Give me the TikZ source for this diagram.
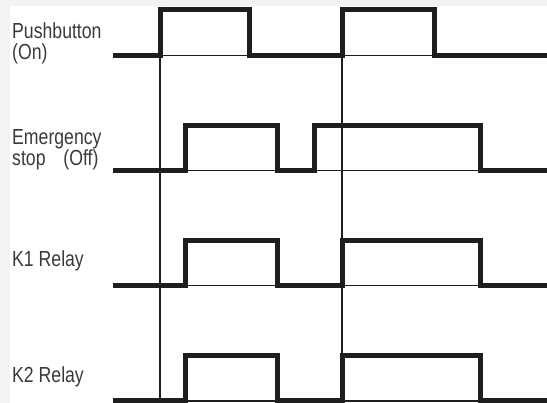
\documentclass[tikz,border=0pt]{standalone}
\usepackage{fontspec}
\setmainfont{Liberation Sans}[FakeStretch=0.81]
\definecolor{ink}{HTML}{1E1E1E}
\definecolor{lbltext}{HTML}{3A3A3A}
\definecolor{band}{HTML}{F3F3F3}
\begin{document}
\begin{tikzpicture}[x=1pt,y=-1pt,line cap=butt,line join=miter,
 wave/.style={draw=ink,line width=5pt},
 guide/.style={draw=ink,line width=1.5pt},
 lbl/.style={anchor=base west,inner sep=0pt,align=left,text=lbltext,
  font=\fontsize{21.8}{21.5}\selectfont}]
 \useasboundingbox (0,0) rectangle (547,403);
 % grey edges of the cropped scan
 \fill[band] (0,0) rectangle (547,6);
 \fill[band] (0,0) rectangle (10,403);
 % time markers
 \draw[guide] (160,7)--(160,403);
 \draw[guide] (342,7)--(342,403);
 % pushbutton
 \draw[guide] (160,55.5)--(249.5,55.5) (342,55.5)--(434.5,55.5);
 \draw[wave] (113,55.5)--(160,55.5)--(160,10)--(249.5,10)--(249.5,55.5)
  --(342,55.5)--(342,10)--(434.5,10)--(434.5,55.5)--(547,55.5);
 % emergency stop
 \draw[guide] (185.5,170.5)--(277,170.5) (314.5,170.5)--(480.5,170.5);
 \draw[wave] (113,170.5)--(185.5,170.5)--(185.5,125.5)--(277,125.5)
  --(277,170.5)--(314.5,170.5)--(314.5,125.5)--(480.5,125.5)
  --(480.5,170.5)--(547,170.5);
 % relays
 \foreach \base/\high in {285.5/240.5,401/355.5}{
  \draw[guide] (185.5,\base)--(277,\base) (342.5,\base)--(480.5,\base);
  \draw[wave] (113,\base)--(185.5,\base)--(185.5,\high)--(277,\high)
   --(277,\base)--(342.5,\base)--(342.5,\high)--(480.5,\high)
   --(480.5,\base)--(547,\base);
 }
 % labels (base = last line)
 \node[lbl] (push) at (12,60) {Pushbutton\\(On)};
 \node[lbl] (estop) at (12,166) {Emergency\\stop\hspace{13pt} (Off)};
 \node[lbl] (kone) at (12,266.7) {K1 Relay};
 \node[lbl] (ktwo) at (12,383) {K2 Relay};
\end{tikzpicture}
\end{document}
